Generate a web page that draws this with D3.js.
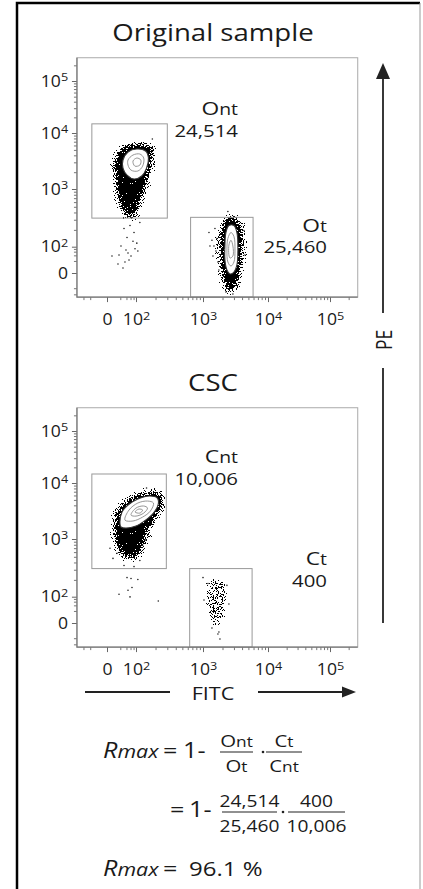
<!DOCTYPE html>
<html>
<head>
<meta charset="utf-8">
<script src="https://cdn.jsdelivr.net/npm/d3@7"></script>
<style>
body { margin: 0; background: #fff; }
svg { display: block; }
text { font-family: "Open Sans", sans-serif; fill: #1a1a1a; }
</style>
</head>
<body>
<script>
var w = 423;
var h = 889;

// axis ticks, shared by both panels
var decadeTicks = [0, 100, 1000, 10000, 100000];
var decadeLabels = [["0", ""], ["10", "2"], ["10", "3"], ["10", "4"], ["10", "5"]];
var minorSteps = [2, 3, 4, 5, 6, 7, 8, 9];
var minorDecades = [100, 1000, 10000];
var lowTicks = [-60, -30, 20, 40, 60, 80, 200000];
var fitcExtent = [-110, 280000];
var peExtent = [-80, 280000];

// gates: [fitc min, fitc max, pe min, pe max]
var gateOnt = [-25, 300, 320, 15000];
var gateOt = [660, 5900, -80, 330];
var gateCnt = [-25, 290, 314, 14900];
var gateCt = [640, 5700, -80, 314];

// event counts
var countOnt = 24514;
var countOt = 25460;
var countCnt = 10006;
var countCt = 400;

// population outlines and density contours, [FITC, PE]
var ontOutline = [[14.8,4580],[30.8,5620],[91.3,6370],[151,6100],[185,4970],[172,3040],[158,1780],[138,1040],[117,645],[100,399],[62.8,314],[32,369],[18,645],[11.5,1180],[8.5,2180],[10,3300]];
var ontContours = [
  [[27.5,3300],[46.8,4580],[103,5180],[141,4770],[156,3580],[146,2370],[123,1710],[83.3,1510],[42.3,1780],[27.5,2370]],
  [[46.8,3300],[75.8,4050],[115,4220],[132,3580],[127,2570],[107,2100],[62.8,2180],[46.8,2680]],
  [[75.8,3160],[103,3580],[119,3300],[115,2680],[90,2570]]
];
var ontDots = [[42.3,147],[83.3,180],[75.8,126],[21.8,103],[17,41.6],[38.1,71.4],[46.8,52],[62.8,37.1],[91.3,81.2],[107,64.3],[5.1,37.1],[34.2,17.3],[27.5,5.8],[14.8,12.7],[51.7,22.7],[103,116],[30.8,211],[57,238],[179,7820],[115,268]];

var otOutline = [[2100,268],[2510,340],[3110,340],[3710,268],[3980,160],[3980,71.4],[3840,10.7],[3580,-5.8],[3220,-29.3],[2700,-46.5],[2260,-29.3],[2030,-5.8],[1892,10.7],[1827,71.4],[1827,160]];
var otContours = [
  [[2260,180],[2510,238],[3000,238],[3330,180],[3450,71.4],[3330,10.7],[3000,0.95],[2600,-0.95],[2340,3.2],[2180,22.7],[2180,107]],
  [[2420,141],[2700,180],[3000,153],[3110,71.4],[3000,17.3],[2700,8.9],[2420,17.3],[2340,71.4]],
  [[2510,107],[2700,131],[2890,103],[2890,37.1],[2600,29.3]]
];
var otDots = [[2420,416],[1237,180],[1375,131],[1476,103],[1585,64.3],[1425,37.1],[1642,141],[1281,103],[1700,17.3],[1530,211],[4270,195],[4430,41.6],[2890,-57.9],[2260,-46.5],[1762,3.2]];

var cntOutline = [[7.8,1570],[12.9,3040],[34.2,4400],[103,6100],[162,6910],[236,6370],[253,4400],[213,2680],[162,1710],[146,1086],[127,698],[103,507],[46.8,469],[19.3,595],[10.9,961]];
var cntContours = [
  [[19.3,1850],[24.6,3040],[46.8,4050],[107,5180],[162,5860],[213,5400],[220,4220],[186,2910],[141,2180],[100,1710],[38.1,1570],[21.8,1640]],
  [[34.2,2180],[51.7,3300],[107,4400],[151,4770],[186,4400],[167,3160],[127,2470],[75.8,2100]],
  [[62.8,2680],[100,3580],[132,3890],[151,3580],[132,2910],[100,2570]],
  [[91.3,3040],[111,3430],[127,3300],[115,2910]]
];
var cntDots = [[42.3,219],[62.8,211],[107,203],[46.8,131],[17,111],[57,98],[69,147],[220,64.3],[6.4,469],[12.9,572],[127,787],[141,961],[2.8,698],[146,8140],[30.8,354],[83.3,340],[115,433]];

var ctOutline = [[1281,195],[1700,219],[2100,195],[2420,120],[2260,29.3],[1960,3.2],[1585,-3.2],[1281,3.2],[1152,41.6],[1112,131]];
var ctCore = [[1425,141],[1762,153],[2030,107],[1892,22.7],[1530,12.7],[1328,46.5],[1328,111]];
var ctDots = [[1000,219],[1762,-12.7],[1827,-33],[1194,173],[2340,160],[1036,71.4],[2510,46.5],[1375,-5.8],[1700,-17.3]];

var fmt = d3.format(",");

var svg = d3.select("body")
    .append("svg")
    .attr("width", w)
    .attr("height", h);

// speckle filters: blurred shape alpha + noise, thresholded, kept near the shape
var defs = svg.append("defs");
function speckle(id, k2, k3, k4, blur) {
  var f = defs.append("filter")
      .attr("id", id)
      .attr("filterUnits", "userSpaceOnUse")
      .attr("x", 0).attr("y", 0).attr("width", w).attr("height", h)
      .attr("color-interpolation-filters", "sRGB");
  f.append("feGaussianBlur").attr("in", "SourceAlpha").attr("stdDeviation", blur).attr("result", "b");
  f.append("feComponentTransfer").attr("in", "b").attr("result", "mask")
      .append("feFuncA").attr("type", "discrete").attr("tableValues", "0 1 1 1 1 1 1 1 1 1 1 1");
  f.append("feTurbulence").attr("type", "fractalNoise").attr("baseFrequency", 0.9)
      .attr("numOctaves", 2).attr("seed", 7).attr("result", "n");
  f.append("feColorMatrix").attr("in", "n").attr("type", "matrix")
      .attr("values", "0 0 0 0 0  0 0 0 0 0  0 0 0 0 0  1 0 0 0 0").attr("result", "na");
  f.append("feComposite").attr("in", "b").attr("in2", "na").attr("operator", "arithmetic")
      .attr("k1", 0).attr("k2", k2).attr("k3", k3).attr("k4", k4).attr("result", "c");
  f.append("feComponentTransfer").attr("in", "c").attr("result", "t")
      .append("feFuncA").attr("type", "discrete").attr("tableValues", "0 1");
  f.append("feComposite").attr("in", "t").attr("in2", "mask").attr("operator", "in");
}
speckle("dense", 3.84, 8, -5.42, 3.5);
speckle("sparse", 1.2, 4, -2.9, 2);

var x = d3.scaleSymlog().constant(10)
    .domain(decadeTicks)
    .range([107, 136, 203, 268, 330]);
var y = d3.scaleSymlog().constant(10)
    .domain(decadeTicks)
    .range([273, 246.7, 189, 133, 81]);

var line = d3.line()
    .x(function(d) { return x(d[0]); })
    .y(function(d) { return y(d[1]); })
    .curve(d3.curveCatmullRomClosed.alpha(0.5));

// text with a slight horizontal stretch, like the source figure
function label(g, tx, ty, parts, size, anchor) {
  var t = g.append("text")
      .attr("transform", "translate(" + tx + "," + ty + ") scale(1.2,1)")
      .attr("font-size", size)
      .attr("text-anchor", anchor || "start");
  parts.forEach(function(p) {
    var s = t.append("tspan").text(p[0]);
    if (p[1]) s.attr("font-size", size * p[1]);
    if (p[2]) s.attr("font-style", "italic");
  });
  return t;
}

var minorTicks = [];
minorDecades.forEach(function(d) {
  minorSteps.forEach(function(k) { minorTicks.push(k * d); });
});
minorTicks = minorTicks.concat(lowTicks);

function drawPanel(p) {
  var g = svg.append("g").attr("transform", "translate(0," + p.dy + ")");
  var x0 = x(fitcExtent[0]), x1 = x(fitcExtent[1]);
  var y0 = y(peExtent[0]), y1 = y(peExtent[1]);

  label(g, 213, 41, [[p.title]], 23, "middle");

  g.append("rect")
      .attr("x", x0).attr("y", y1)
      .attr("width", x1 - x0).attr("height", y0 - y1)
      .attr("fill", "none").attr("stroke", "#aaa").attr("stroke-width", 1);

  // populations
  p.pops.forEach(function(pop) {
    g.append("g").attr("filter", "url(#" + pop.filter + ")")
      .selectAll("path")
      .data(pop.blobs)
      .enter()
      .append("path")
      .attr("d", line)
      .attr("fill", "#000");
    g.selectAll(null)
      .data(pop.contours)
      .enter()
      .append("path")
      .attr("d", line)
      .attr("fill", function(d, i) { return i === 0 ? "#fff" : "none"; })
      .attr("stroke", function(d, i) { return i === 0 ? "#333" : "#8a8a8a"; })
      .attr("stroke-width", function(d, i) { return i === 0 ? 1.1 : 0.9; });
    g.selectAll(null)
      .data(pop.dots)
      .enter()
      .append("circle")
      .attr("cx", function(d) { return x(d[0]); })
      .attr("cy", function(d) { return y(d[1]); })
      .attr("r", 0.8)
      .attr("fill", "#222");
  });

  // gates
  p.gates.forEach(function(gt) {
    g.append("rect")
        .attr("x", x(gt[0])).attr("y", y(gt[3]))
        .attr("width", x(gt[1]) - x(gt[0]))
        .attr("height", y(gt[2]) - y(gt[3]))
        .attr("fill", "none").attr("stroke", "#999").attr("stroke-width", 1);
  });

  // axes
  var yAxis = d3.axisLeft(y).tickValues(decadeTicks).tickSize(5).tickPadding(3).tickFormat("");
  var yMinor = d3.axisLeft(y).tickValues(minorTicks).tickSize(3).tickFormat("");
  var xAxis = d3.axisBottom(x).tickValues(decadeTicks).tickSize(5).tickPadding(12).tickFormat("");
  var xMinor = d3.axisBottom(x).tickValues(minorTicks).tickSize(3).tickFormat("");

  var gy = g.append("g").attr("transform", "translate(" + x0 + ",0)").attr("color", "#666").call(yAxis);
  var gym = g.append("g").attr("transform", "translate(" + x0 + ",0)").attr("color", "#777").call(yMinor);
  var gx = g.append("g").attr("transform", "translate(0," + y0 + ")").attr("color", "#666").call(xAxis);
  var gxm = g.append("g").attr("transform", "translate(0," + y0 + ")").attr("color", "#777").call(xMinor);
  [gy, gym, gx, gxm].forEach(function(a) { a.select(".domain").remove(); });
  gym.selectAll("text").remove();
  gxm.selectAll("text").remove();

  [gy, gx].forEach(function(a) {
    a.selectAll(".tick text").each(function(d, i) {
      var t = d3.select(this).text(null)
          .attr("font-size", 16)
          .attr("transform", "scale(1.1,1)");
      t.append("tspan").text(decadeLabels[i][0]);
      if (decadeLabels[i][1]) {
        t.append("tspan").attr("dy", "-0.45em").attr("font-size", 11.5).text(decadeLabels[i][1]);
      }
    });
  });

  g.append("path")
      .attr("d", "M" + x0 + "," + y1 + "V" + y0 + "H" + x1)
      .attr("fill", "none").attr("stroke", "#777").attr("stroke-width", 1.2);

  // gate labels
  p.labels.forEach(function(l) {
    label(g, l.x, l.nameY, l.name, 19, "end");
    label(g, l.x, l.countY, [[fmt(l.count)]], 17, "end");
  });
}

drawPanel({
  dy: 0,
  title: "Original sample",
  pops: [
    { blobs: [ontOutline], contours: ontContours, dots: ontDots, filter: "dense" },
    { blobs: [otOutline], contours: otContours, dots: otDots, filter: "dense" }
  ],
  gates: [gateOnt, gateOt],
  labels: [
    { name: [["O"], ["nt", 0.85]], count: countOnt, x: 238, nameY: 115, countY: 137 },
    { name: [["O"], ["t", 0.85]], count: countOt, x: 327, nameY: 232, countY: 253 }
  ]
});

drawPanel({
  dy: 350,
  title: "CSC",
  pops: [
    { blobs: [cntOutline], contours: cntContours, dots: cntDots, filter: "dense" },
    { blobs: [ctOutline, ctCore], contours: [], dots: ctDots, filter: "sparse" }
  ],
  gates: [gateCnt, gateCt],
  labels: [
    { name: [["C"], ["nt", 0.85]], count: countCnt, x: 238, nameY: 113, countY: 135 },
    { name: [["C"], ["t", 0.85]], count: countCt, x: 327, nameY: 215, countY: 237 }
  ]
});

// channel arrows
var ink = "#222";
svg.append("line").attr("x1", 383).attr("x2", 383).attr("y1", 77).attr("y2", 313)
    .attr("stroke", ink).attr("stroke-width", 1.8);
svg.append("line").attr("x1", 383).attr("x2", 383).attr("y1", 368).attr("y2", 623)
    .attr("stroke", ink).attr("stroke-width", 1.8);
svg.append("path").attr("d", "M383,63L376,79L390,79Z").attr("fill", ink);
svg.append("text")
    .attr("transform", "translate(392,340) scale(1.2,1) rotate(-90)")
    .attr("font-size", 17.5)
    .attr("text-anchor", "middle")
    .text("PE");

svg.append("line").attr("x1", 85).attr("x2", 170).attr("y1", 692).attr("y2", 692)
    .attr("stroke", ink).attr("stroke-width", 1.8);
svg.append("line").attr("x1", 258).attr("x2", 345).attr("y1", 692).attr("y2", 692)
    .attr("stroke", ink).attr("stroke-width", 1.8);
svg.append("path").attr("d", "M356,692L342,686.5L342,697.5Z").attr("fill", ink);
label(svg, 213, 700, [["FITC"]], 18, "middle");

// formula; the source truncates to one decimal
var rmax = 1 - (countOnt / countOt) * (countCt / countCnt);
var rmaxText = (Math.floor(rmax * 1000) / 10).toFixed(1) + " %";

function fraction(cx, cy, x0, x1, top, bottom, size) {
  svg.append("line").attr("x1", x0).attr("x2", x1).attr("y1", cy).attr("y2", cy)
      .attr("stroke", ink).attr("stroke-width", 1.2);
  label(svg, cx, cy - 5, top, size, "middle");
  label(svg, cx, cy + 20, bottom, size, "middle");
}
function dot(cx, cy) {
  svg.append("circle").attr("cx", cx).attr("cy", cy).attr("r", 1.3).attr("fill", ink);
}

label(svg, 103, 758, [["R", 0, true], ["max", 0.85, true]], 21);
label(svg, 163, 758, [["="]], 21);
label(svg, 183, 758, [["1-"]], 21);
fraction(236.5, 752, 220, 253, [["O"], ["nt", 0.85]], [["O"], ["t", 0.85]], 17);
dot(263, 752);
fraction(284, 752, 266, 302, [["C"], ["t", 0.85]], [["C"], ["nt", 0.85]], 17);

label(svg, 170, 817, [["="]], 21);
label(svg, 189, 817, [["1-"]], 21);
fraction(249.5, 812, 222, 277, [[fmt(countOnt)]], [[fmt(countOt)]], 16);
dot(283, 812);
fraction(316.5, 812, 288, 345, [[fmt(countCt)]], [[fmt(countCnt)]], 16);

label(svg, 103, 876, [["R", 0, true], ["max", 0.85, true]], 21);
label(svg, 163, 876, [["="]], 21);
label(svg, 189, 876, [[rmaxText]], 20);

// figure frame
svg.append("path").attr("d", "M17,892V3H420")
    .attr("fill", "none").attr("stroke", "#000").attr("stroke-width", 2.5);
svg.append("line").attr("x1", 420).attr("x2", 420).attr("y1", 3).attr("y2", 889)
    .attr("stroke", "#999").attr("stroke-width", 1);
</script>
</body>
</html>
